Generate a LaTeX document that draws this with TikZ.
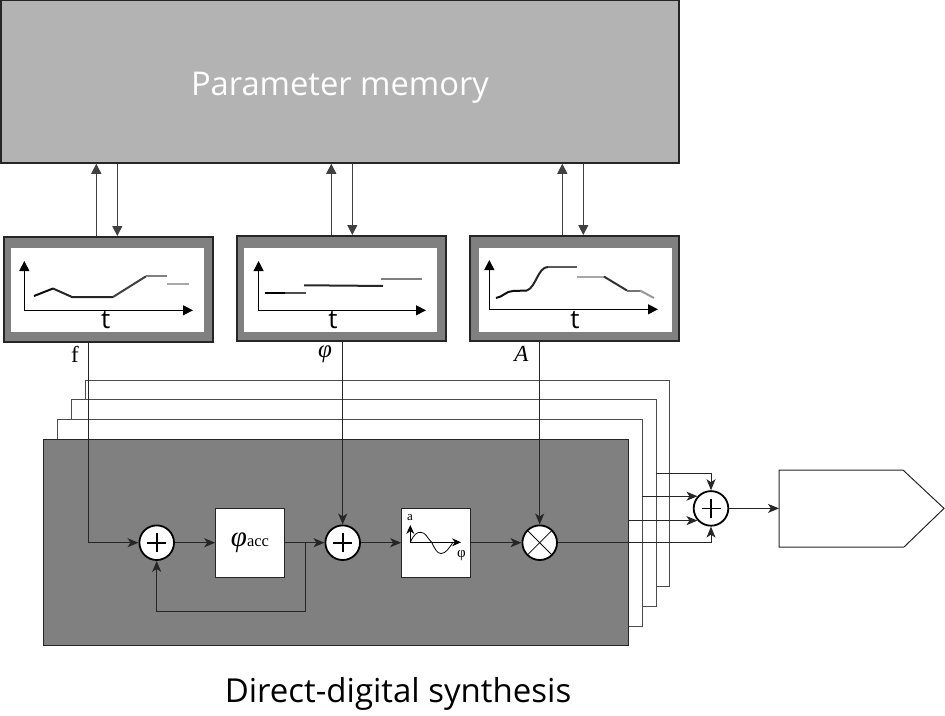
\documentclass[tikz,border=0pt]{standalone}
\usepackage{amsmath,amssymb}
\usepackage{fontspec}
\setmainfont{Open Sans}
\newfontfamily\labelfont{Liberation Serif}
\usepackage{xcolor}
\usetikzlibrary{positioning,calc,arrows.meta}
\definecolor{memfill}{HTML}{b3b3b3}
\definecolor{synthfill}{HTML}{808080}
\definecolor{rimline}{HTML}{262626}
\definecolor{wireline}{HTML}{404040}
\tikzset{
  membox/.style={draw=rimline, line width=1.5pt, fill=memfill, inner sep=0pt, minimum width=678pt, minimum height=163pt},
  rimbox/.style={draw=rimline, line width=2pt, fill=synthfill, inner sep=0pt, minimum width=209pt, minimum height=105pt},
  plotbox/.style={fill=white, inner sep=0pt, minimum width=193pt, minimum height=84pt},
  blockbox/.style={draw=rimline, line width=1pt, fill=white, inner sep=0pt, minimum size=68.6pt},
  frame/.style={draw=black!70, line width=1pt, fill=white},
  sumdot/.style={circle, draw=black, line width=1.8pt, fill=white, inner sep=0pt, minimum size=34.6pt,
    path picture={\draw[line width=1.6pt] ([xshift=-9.5pt]path picture bounding box.center) -- ([xshift=9.5pt]path picture bounding box.center);
      \draw[line width=1.6pt] ([yshift=-9.5pt]path picture bounding box.center) -- ([yshift=9.5pt]path picture bounding box.center);}},
  muldot/.style={circle, draw=black, line width=1.8pt, fill=white, inner sep=0pt, minimum size=34.6pt,
    path picture={\draw[line width=0.8pt] (path picture bounding box.south west) -- (path picture bounding box.north east);
      \draw[line width=0.8pt] (path picture bounding box.north west) -- (path picture bounding box.south east);}},
  memwire/.style={draw=wireline, line width=1pt, -{Triangle[length=10pt,width=10pt]}},
  axis/.style={draw=black, line width=1pt, {Triangle[length=10pt,width=10pt]}-{Triangle[length=10pt,width=10pt]}},
  wire/.style={draw=rimline, line width=1pt, -{Stealth[length=11pt,width=9pt,inset=3pt]}},
  ramp/.style={line width=2pt, line join=round},
  bigtext/.style={inner sep=0pt, font=\fontsize{33}{40}\selectfont},
  axistext/.style={inner sep=0pt, font=\fontsize{26}{30}\selectfont},
  sumlabel/.style={inner sep=0pt, font=\labelfont\fontsize{23}{27}\selectfont}
}
\begin{document}
\begin{tikzpicture}[x=1pt, y=-1pt]
  \useasboundingbox (0,0) rectangle (945,715);

  % Memory
  \node[membox] (mem) at (340,81.5) {};
  \node[inner sep=0pt, font=\fontsize{32.7}{40}\selectfont, text=white] (memlabel) at (340,88) {Parameter memory};

  % Stacked synthesis channels
  \draw[frame] (85,380) rectangle (669.5,586.7);
  \draw[frame] (71,399.7) rectangle (656,606);
  \draw[frame] (57,419.3) rectangle (642,626);
  \draw[draw=rimline, line width=1pt, fill=synthfill] (43.5,439) rectangle (628.5,645.5);

  % Envelope boxes
  \node[rimbox] (freqbox) at (108,289.5) {};
  \node[plotbox] (freqplot) at (107.5,289.7) {};
  \node[rimbox] (phasebox) at (341.5,288.5) {};
  \node[plotbox] (phaseplot) at (340.8,289.7) {};
  \node[rimbox] (ampbox) at (574.6,288.5) {};
  \node[plotbox] (ampplot) at (575,289.7) {};

  % Wires to and from memory
  \coordinate (frequp) at (96.3,200);
  \coordinate (freqdown) at (117.3,200);
  \coordinate (phaseup) at (331.3,200);
  \coordinate (phasedown) at (352.3,200);
  \coordinate (ampup) at (562.3,200);
  \coordinate (ampdown) at (583.3,200);
  \draw[memwire] (freqbox.north -| frequp) -- (mem.south -| frequp);
  \draw[memwire] (mem.south -| freqdown) -- (freqbox.north -| freqdown);
  \draw[memwire] (phasebox.north -| phaseup) -- (mem.south -| phaseup);
  \draw[memwire] (mem.south -| phasedown) -- (phasebox.north -| phasedown);
  \draw[memwire] (ampbox.north -| ampup) -- (mem.south -| ampup);
  \draw[memwire] (mem.south -| ampdown) -- (ampbox.north -| ampdown);

  % Plot 1
  \draw[axis] (24.3,261) -- (24.3,310.3) -- (193,310.3);
  \draw[ramp, color=black!95] (34,296) -- (53,288.5);
  \draw[ramp, color=black!85] (53,288.5) -- (72,297) -- (113,297);
  \draw[ramp, color=black!75] (113,297) -- (146,276.3);
  \draw[ramp, color=black!50] (146,276.3) -- (167,276.3);
  \draw[ramp, color=black!35] (167,284.3) -- (189,284.3);
  \node[axistext] (freqt) at (105.6,320) {t};

  % Plot 2
  \draw[axis] (258.6,261) -- (258.6,310.3) -- (426,310.3);
  \draw[ramp, color=black] (265,292.6) -- (285,292.6);
  \draw[ramp, color=black!70] (285,292.6) -- (305.6,292.6);
  \draw[ramp, color=black!85] (304,285.3) -- (343,285.6) -- (383,286);
  \draw[ramp, color=black!50] (381,278.6) -- (422,278.6);
  \node[axistext] (phaset) at (333,320) {t};

  % Plot 3
  \draw[axis] (489.3,260) -- (489.3,309.3) -- (658,309.3);
  \draw[ramp, color=black!95] (496,298) .. controls (503,297) and (506,291) .. (513,291) -- (527,290.5);
  \draw[ramp, color=black!85] (527,290.5) .. controls (536,287) and (538,267) .. (548,267);
  \draw[ramp, color=black!65] (548,267) -- (576.6,267);
  \draw[ramp, color=black!35] (576.6,276.6) -- (604,276.6);
  \draw[ramp, color=black!80] (604,276.6) -- (627,290.5);
  \draw[ramp, color=black!55] (627,290.5) -- (640,290.5);
  \draw[ramp, color=black!40] (640,290.5) -- (654,298);
  \node[axistext] (ampt) at (575,320) {t};

  % Labels under the boxes
  \node[sumlabel] (freqlabel) at (75,354) {f};
  \node[sumlabel, font=\labelfont\fontsize{25}{28}\selectfont] (phaselabel) at (325,354) {\itshape φ};
  \node[sumlabel] (amplabel) at (521.5,354) {\itshape A};

  % Signal path
  \node[sumdot] (sumf) at (156.7,542.7) {};
  \node[blockbox, font=\labelfont] (acc) at (250,542.7) {{\fontsize{29}{32}\selectfont\itshape φ}{\fontsize{16.5}{20}\selectfont acc}};
  \node[sumdot] (sumphase) at (342.7,542.7) {};
  \node[blockbox] (sine) at (436,542.7) {};
  \node[muldot] (mix) at (539.7,542.7) {};
  \node[sumdot] (sumout) at (711,508.4) {};

  % Sine look-up sketch
  \draw[draw=black, line width=1pt, {Stealth[length=9pt,width=8pt,inset=3pt]}-{Stealth[length=9pt,width=8pt,inset=3pt]}] (410.3,525) -- (410.3,542.3) -- (461,542.3);
  \draw[draw=black, line width=0.8pt] (410.3,542.3) .. controls (414,534) and (417,532.3) .. (420.5,532.3) .. controls (426,532.3) and (427,538) .. (431.7,542.3) .. controls (435,549) and (437,553.5) .. (441,553.5) .. controls (446,553.5) and (449,548) .. (453,542.3);
  \node[inner sep=0pt, font=\labelfont\fontsize{13}{15}\selectfont] (sinea) at (410,517.5) {a};
  \node[inner sep=0pt, font=\labelfont\fontsize{15}{17}\selectfont] (sinephi) at (461.5,555.5) {φ};

  % Wires
  \coordinate (freqdrop) at (88,400);
  \draw[wire] (freqbox.south -| freqdrop) |- (sumf.west);
  \draw[wire] (phasebox.south -| sumphase) -- (sumphase.north);
  \draw[wire] (ampbox.south -| mix) -- (mix.north);
  \draw[wire] (sumf) -- (acc);
  \draw[wire] (acc) -- (sumphase);
  \draw[wire] (sumphase) -- (sine);
  \draw[wire] (sine) -- (mix);
  \coordinate (feedback) at (305.7,611);
  \draw[wire] (acc.east -| feedback) -- (feedback) -| (sumf.south);

  % Summing the channels
  \coordinate (chana) at (655.7,473.4);
  \coordinate (chanb) at (642,500);
  \coordinate (chanc) at (628.5,500);
  \draw[wire] (chana) -| (sumout.north);
  \draw[wire] (sumout.138 -| chanb) -- (sumout.138);
  \draw[wire] (sumout.222 -| chanc) -- (sumout.222);
  \draw[wire] (mix) -| (sumout.south);

  % Output block
  \coordinate (outa) at (779,470);
  \coordinate (outb) at (779,508.4);
  \coordinate (outc) at (779,547);
  \draw[draw=rimline, line width=1pt] (outb) -- (outa) -- (903,470) -- (944,508.4) -- (904,547) -- (outc) -- cycle;
  \draw[wire] (sumout) -- (outb);

  % Title
  \node[bigtext] (title) at (398,694) {Direct-digital synthesis};
\end{tikzpicture}
\end{document}
